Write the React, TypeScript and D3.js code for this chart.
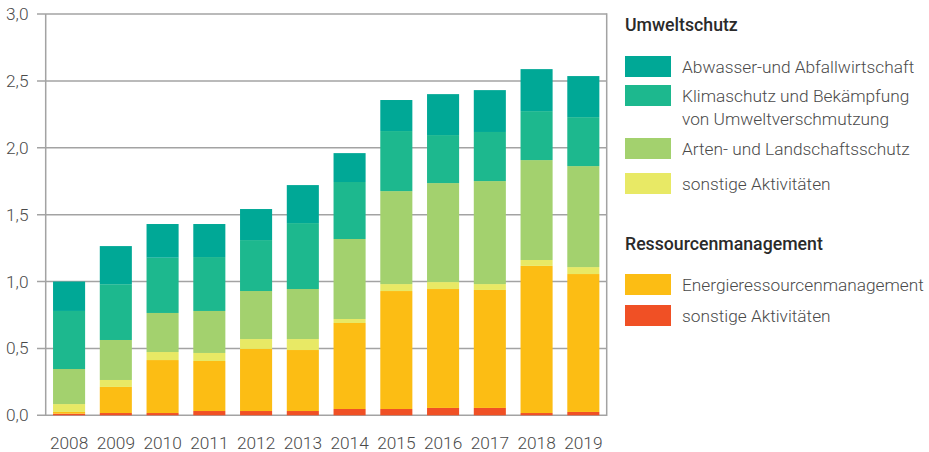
import React from "react";
import * as d3 from "d3";

const years = ["2008","2009","2010","2011","2012","2013","2014","2015","2016","2017","2018","2019"];
const sonstigeRessourcen = [0.012,0.017,0.017,0.032,0.032,0.032,0.047,0.047,0.055,0.055,0.017,0.025];
const energie = [0.013,0.195,0.396,0.374,0.464,0.456,0.643,0.882,0.889,0.882,1.100,1.031];
const sonstigeUmwelt = [0.059,0.052,0.060,0.060,0.074,0.082,0.030,0.052,0.052,0.044,0.044,0.052];
const arten = [0.262,0.299,0.292,0.314,0.359,0.374,0.598,0.695,0.740,0.770,0.747,0.755];
const klima = [0.434,0.417,0.413,0.403,0.381,0.493,0.426,0.449,0.359,0.367,0.366,0.366];
const abwasser = [0.220,0.285,0.252,0.247,0.232,0.284,0.216,0.232,0.306,0.313,0.314,0.307];
const yTicks = [0, 0.5, 1.0, 1.5, 2.0, 2.5, 3.0];

const seriesKeys = ["sonstigeRessourcen","energie","sonstigeUmwelt","arten","klima","abwasser"];
const seriesColors: Record<string,string> = {
  sonstigeRessourcen: "#f05025",
  energie: "#fcbd14",
  sonstigeUmwelt: "#e8e965",
  arten: "#a3d16e",
  klima: "#1db88e",
  abwasser: "#00a896",
};

const W = 929, H = 452;
const left = 45.7, right = 606.7, top = 14, bottom = 415.3;

export default function App() {
  const rows = years.map((y, i) => ({
    year: y,
    sonstigeRessourcen: sonstigeRessourcen[i],
    energie: energie[i],
    sonstigeUmwelt: sonstigeUmwelt[i],
    arten: arten[i],
    klima: klima[i],
    abwasser: abwasser[i],
  }));
  const stack = d3.stack<any>().keys(seriesKeys)(rows);
  const x = d3.scaleBand().domain(years).range([left, right]).paddingInner(0.314).paddingOuter(0.157);
  const y = d3.scaleLinear().domain([0, 3]).range([bottom, top]);
  const font = "Roboto, 'Noto Sans', sans-serif";
  const textColor = "#4a4a4a";
  const gridColor = "#a3a3a3";
  const fs = 17.3;
  const fmt = (v: number) => v.toFixed(1).replace(".", ",");

  const legendItems = [
    { type: "title", text: "Umweltschutz", y: 31 },
    { type: "item", key: "abwasser", lines: ["Abwasser-und Abfallwirtschaft"], sy: 56, ty: 73 },
    { type: "item", key: "klima", lines: ["Klimaschutz und Bekämpfung", "von Umweltverschmutzung"], sy: 85, ty: 102 },
    { type: "item", key: "arten", lines: ["Arten- und Landschaftsschutz"], sy: 138, ty: 155 },
    { type: "item", key: "sonstigeUmwelt", lines: ["sonstige Aktivitäten"], sy: 173, ty: 190 },
    { type: "title", text: "Ressourcenmanagement", y: 250 },
    { type: "item", key: "energie", lines: ["Energieressourcenmanagement"], sy: 274, ty: 291 },
    { type: "item", key: "sonstigeRessourcen", lines: ["sonstige Aktivitäten"], sy: 305, ty: 322 },
  ];

  return (
    <svg width={W} height={H} style={{ position: "absolute", left: 0, top: 0, background: "#fff" }}>
      {/* gridlines */}
      {yTicks.map((t) => (
        <line key={"g" + t} x1={37} x2={right} y1={y(t)} y2={y(t)} stroke={gridColor} strokeWidth={1.5} />
      ))}
      <line x1={left} x2={left} y1={top} y2={bottom} stroke={gridColor} strokeWidth={1.5} />
      <line x1={right} x2={right} y1={top - 0.75} y2={bottom + 0.75} stroke={gridColor} strokeWidth={1.5} />
      {yTicks.map((t) => (
        <text key={"t" + t} x={28.5} y={y(t)} dy="0.35em" textAnchor="end" fontFamily={font} fontWeight={300}
          fontSize={fs} fill={textColor}>{fmt(t)}</text>
      ))}
      {/* bars */}
      {stack.map((s) => (
        <g key={s.key} fill={seriesColors[s.key]}>
          {s.map((d, i) => (
            <rect key={i} x={x(years[i])} width={x.bandwidth()} y={y(d[1])} height={y(d[0]) - y(d[1])} />
          ))}
        </g>
      ))}
      {years.map((yr) => (
        <text key={yr} x={(x(yr) as number) + x.bandwidth() / 2} y={448.5} textAnchor="middle" fontFamily={font}
          fontWeight={300} fontSize={fs} fill={textColor}>{yr}</text>
      ))}
      {/* legend */}
      {legendItems.map((it, i) =>
        it.type === "title" ? (
          <text key={i} x={625} y={it.y} fontFamily={font} fontWeight={500} fontSize={17.7} fill="#2a2a2a">{it.text}</text>
        ) : (
          <g key={i}>
            <rect x={625} y={it.sy} width={46} height={21} fill={seriesColors[it.key as string]} />
            {(it.lines as string[]).map((ln, j) => (
              <text key={j} x={682} y={(it.ty as number) + j * 23} fontFamily={font} fontWeight={300} fontSize={fs}
                fill={textColor}>{ln}</text>
            ))}
          </g>
        )
      )}
    </svg>
  );
}
